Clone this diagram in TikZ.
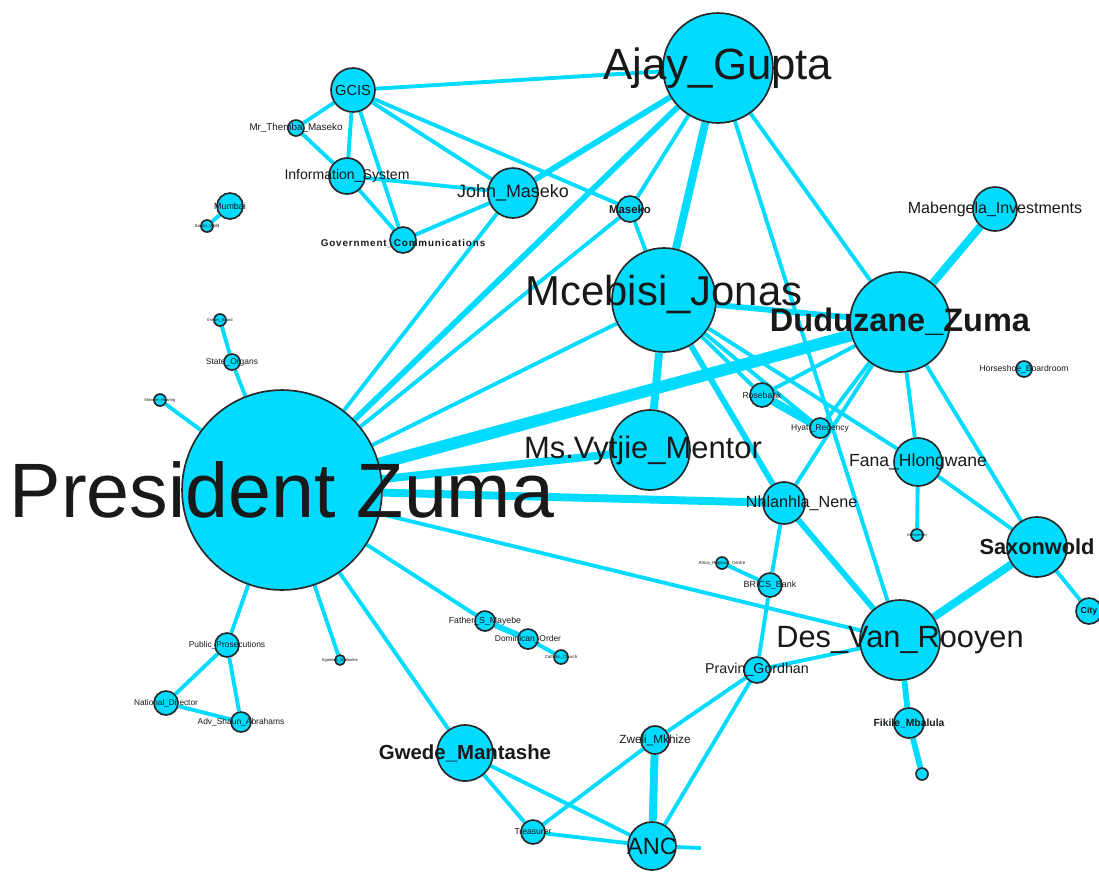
\documentclass[tikz,border=0pt]{standalone}
\usepackage{fontspec}
\setmainfont{Liberation Sans}
\usetikzlibrary{backgrounds}
\definecolor{netcyan}{RGB}{0,219,255}
\definecolor{rimgray}{RGB}{40,40,40}
\definecolor{labgray}{RGB}{25,25,25}
\newcommand\fsz[1]{\fontsize{#1pt}{#1pt}\selectfont}
\tikzset{
  vx/.style={circle, draw=rimgray, line width=0.95pt, fill=netcyan, inner sep=0pt, minimum size=#1*0.04cm},
  lab/.style={text=labgray, inner sep=0pt, font=\fsz{#1}},
  labb/.style={text=labgray, inner sep=0pt, font=\fsz{#1}\bfseries},
  ed/.style={draw=netcyan, line width=2.2pt},
  edm/.style={draw=netcyan, line width=3.3pt},
  edw/.style={draw=netcyan, line width=4.5pt},
  edx/.style={draw=netcyan, line width=6.8pt},
}
\begin{document}
\begin{tikzpicture}[x=0.02cm, y=-0.02cm]
\useasboundingbox (0,0) rectangle (1099,873);

% ---- vertices ----
\node[vx=100] (pz) at (282,490) {};
\node[vx=55] (ajay) at (718,68) {};
\node[vx=52] (jonas) at (664,300) {};
\node[vx=50] (duduzane) at (900,322) {};
\node[vx=40] (mentor) at (650,450) {};
\node[vx=40] (desvr) at (900,640) {};
\node[vx=30] (saxon) at (1037,547) {};
\node[vx=24] (fana) at (918,462) {};
\node[vx=21] (nene) at (784,503) {};
\node[vx=28] (gwede) at (465,753) {};
\node[vx=24] (anc) at (652,846) {};
\node[vx=22] (gcis) at (353,90) {};
\node[vx=18] (infosys) at (347,176) {};
\node[vx=25] (johnm) at (513,193) {};
\node[vx=13] (govcom) at (403,240) {};
\node[vx=8] (themba) at (296,128) {};
\node[vx=13] (mumbai) at (230,206) {};
\node[vx=6] (mumsub) at (207,226) {};
\node[vx=13] (maseko) at (630,209) {};
\node[vx=22] (mabengela) at (995,209) {};
\node[vx=8] (horseshoe) at (1024,369) {};
\node[vx=12] (rosebank) at (762,395) {};
\node[vx=10] (hyatt) at (820,428) {};
\node[vx=6] (fanasub) at (917,535) {};
\node[vx=13] (city) at (1089,611) {};
\node[vx=12] (brics) at (770,585) {};
\node[vx=6] (africa) at (722,563) {};
\node[vx=13] (pravin) at (757,670) {};
\node[vx=15] (fikile) at (909,723) {};
\node[vx=6] (fikilesub) at (922,774) {};
\node[vx=14] (zweli) at (655,740) {};
\node[vx=12] (treasurer) at (533,832) {};
\node[vx=12] (publicp) at (227,645) {};
\node[vx=12] (natdir) at (166,703) {};
\node[vx=10] (abrahams) at (241,722) {};
\node[vx=10] (mayebe) at (485,621) {};
\node[vx=10] (dominican) at (528,639) {};
\node[vx=7] (catholic) at (561,657) {};
\node[vx=5] (kgal) at (340,660) {};
\node[vx=8] (stateorg) at (232,362) {};
\node[vx=6] (stateup) at (220,320) {};
\node[vx=6] (leftsub) at (160,400) {};
\coordinate (ancend) at (701,848);

% ---- white ground and edges, behind the vertices ----
\begin{pgfonlayer}{background}
\fill[white] (0,0) rectangle (1099,873);
\path[ed] (gcis) -- (ajay);
\path[ed] (gcis) -- (themba);
\path[ed] (gcis) -- (infosys);
\path[ed] (gcis) -- (govcom);
\path[ed] (gcis) -- (johnm);
\path[ed] (gcis) -- (maseko);
\path[ed] (themba) -- (infosys);
\path[ed] (infosys) -- (johnm);
\path[ed] (infosys) -- (govcom);
\path[ed] (govcom) -- (johnm);
\path[edm] (johnm) -- (ajay);
\path[ed] (johnm) -- (pz);
\path[ed] (maseko) -- (ajay);
\path[ed] (maseko) -- (jonas);
\path[ed] (maseko) -- (pz);
\path[edm] (ajay) -- (pz);
\path[edw] (ajay) -- (jonas);
\path[ed] (ajay) -- (duduzane);
\path[ed] (ajay) -- (desvr);
\path[ed] (mumbai) -- (mumsub);
\path[ed] (stateup) -- (stateorg);
\path[ed] (stateorg) -- (pz);
\path[ed] (leftsub) -- (pz);
\path[ed] (pz) -- (jonas);
\path[edx] (pz) -- (duduzane);
\path[edw] (pz) -- (mentor);
\path[edw] (pz) -- (nene);
\path[ed] (pz) -- (desvr);
\path[ed] (pz) -- (publicp);
\path[ed] (pz) -- (kgal);
\path[ed] (pz) -- (gwede);
\path[ed] (pz) -- (mayebe);
\path[edm] (mayebe) -- (dominican);
\path[ed] (dominican) -- (catholic);
\path[ed] (publicp) -- (natdir);
\path[ed] (publicp) -- (abrahams);
\path[ed] (natdir) -- (abrahams);
\path[edw] (jonas) -- (mentor);
\path[edm] (jonas) -- (duduzane);
\path[edm] (jonas) -- (nene);
\path[edm] (nene) -- (desvr);
\path[ed] (jonas) -- (rosebank);
\path[ed] (jonas) -- (hyatt);
\path[ed] (jonas) -- (fana);
\path[edw] (rosebank) -- (hyatt);
\path[ed] (rosebank) -- (duduzane);
\path[ed] (hyatt) -- (duduzane);
\path[edw] (duduzane) -- (mabengela);
\path[ed] (duduzane) -- (fana);
\path[ed] (duduzane) -- (saxon);
\path[ed] (duduzane) -- (nene);
\path[ed] (fana) -- (fanasub);
\path[ed] (fana) -- (saxon);
\path[ed] (saxon) -- (city);
\path[edw] (saxon) -- (desvr);
\path[edm] (desvr) -- (fikile);
\path[edm] (fikile) -- (fikilesub);
\path[ed] (desvr) -- (pravin);
\path[ed] (nene) -- (brics);
\path[ed] (brics) -- (pravin);
\path[ed] (brics) -- (africa);
\path[ed] (pravin) -- (zweli);
\path[ed] (pravin) -- (anc);
\path[edw] (zweli) -- (anc);
\path[ed] (zweli) -- (treasurer);
\path[ed] (gwede) -- (treasurer);
\path[ed] (gwede) -- (anc);
\path[ed] (treasurer) -- (anc);
\path[ed] (anc) -- (ancend);
\end{pgfonlayer}

% ---- labels ----
\node[lab=43.9] at (pz) {President Zuma};
\node[lab=24.9] at (ajay) {Ajay\_Gupta};
\node[lab=23.8] at ([yshift=3]jonas) {Mcebisi\_Jonas};
\node[labb=18.5] at (duduzane) {Duduzane\_Zuma};
\node[lab=17.6] at ([xshift=-4]mentor) {Ms.Vytjie\_Mentor};
\node[lab=17.5] at (desvr) {Des\_Van\_Rooyen};
\node[labb=12.4] at (saxon) {Saxonwold};
\node[lab=10] at (fana) {Fana\_Hlongwane};
\node[lab=9.2] at ([xshift=10]nene) {Nhlanhla\_Nene};
\node[labb=11.6] at (gwede) {Gwede\_Mantashe};
\node[lab=13.4] at (anc) {ANC};
\node[lab=8.3] at (gcis) {GCIS};
\node[lab=8] at (infosys) {Information\_System};
\node[lab=10.2] at (johnm) {John\_Maseko};
\node[labb=5.6] at ([yshift=-2]govcom) {\addfontfeature{LetterSpace=9}Government\_Communications};
\node[lab=5.6] at (themba) {Mr\_Themba\_Maseko};
\node[lab=5.1] at (mumbai) {Mumbai};
\node[lab=2.5] at (mumsub) {Saxon\_Wold};
\node[labb=6.5] at (maseko) {Maseko};
\node[lab=9.1] at (mabengela) {Mabengela\_Investments};
\node[lab=4.9] at (horseshoe) {Horseshoe\_Boardroom};
\node[lab=4.9] at (rosebank) {Rosebank};
\node[lab=4.8] at (hyatt) {Hyatt\_Regency};
\node[lab=2.3] at (fanasub) {Interviewer};
\node[labb=5] at (city) {City};
\node[lab=5.1] at (brics) {BRICS\_Bank};
\node[lab=2.5] at (africa) {Africa\_Regional\_Centre};
\node[lab=8.1] at (pravin) {Pravin\_Gordhan};
\node[labb=5.9] at (fikile) {Fikile\_Mbalula};
\node[lab=6.7] at (zweli) {Zweli\_Mkhize};
\node[lab=4.9] at (treasurer) {Treasurer};
\node[lab=4.8] at (publicp) {Public\_Prosecutions};
\node[lab=4.7] at (natdir) {National\_Director};
\node[lab=4.8] at (abrahams) {Adv\_Shaun\_Abrahams};
\node[lab=5] at (mayebe) {Father\_S\_Mayebe};
\node[lab=4.8] at (dominican) {Dominican\_Order};
\node[lab=2.5] at (catholic) {Catholic\_Church};
\node[lab=2.3] at (kgal) {Kgalema\_Motlanthe};
\node[lab=4.8] at (stateorg) {State\_Organs};
\node[lab=2.3] at (stateup) {Eskom\_Board};
\node[lab=2.3] at (leftsub) {Minister\_Hearing};
\end{tikzpicture}
\end{document}
